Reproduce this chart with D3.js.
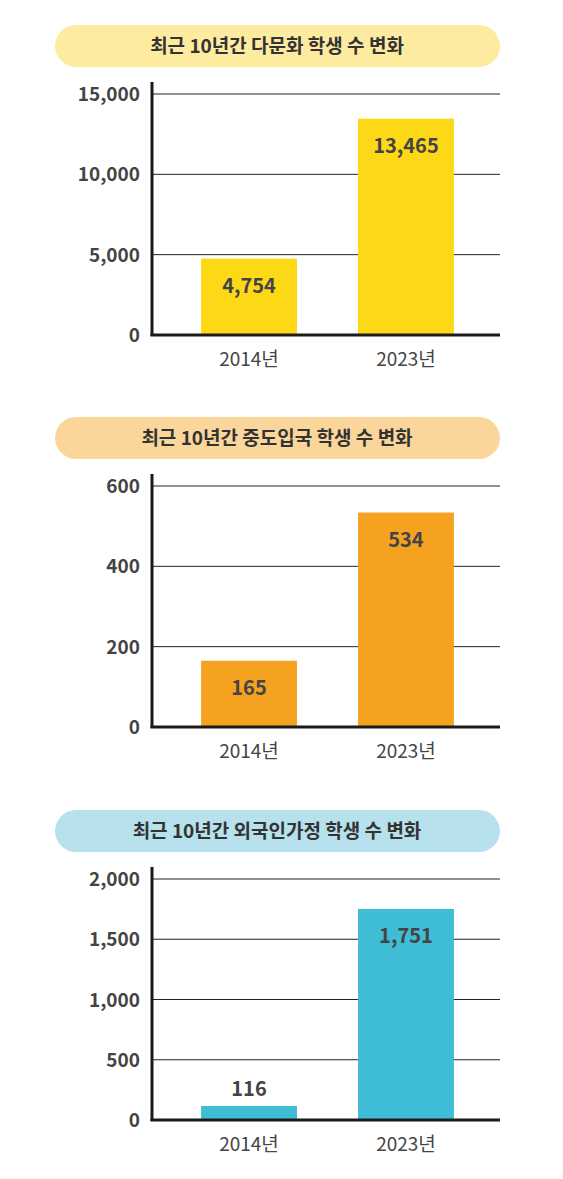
<!DOCTYPE html>
<html><head><meta charset="utf-8">
<script src="https://cdn.jsdelivr.net/npm/d3@7"></script>
<style>body{margin:0;background:#fff}</style>
</head><body>
<svg id="chart" width="563" height="1179"></svg>
<script>
const years = ["2014년", "2023년"];
const titles = ["최근 10년간 다문화 학생 수 변화", "최근 10년간 중도입국 학생 수 변화", "최근 10년간 외국인가정 학생 수 변화"];
const values1 = [4754, 13465];
const values2 = [165, 534];
const values3 = [116, 1751];
const ticks1 = [0, 5000, 10000, 15000];
const ticks2 = [0, 200, 400, 600];
const ticks3 = [0, 500, 1000, 1500, 2000];

const panels = [
  { title: titles[0], values: values1, ticks: ticks1, top: 0, pill: "#fdeba0", bar: "#fcd817" },
  { title: titles[1], values: values2, ticks: ticks2, top: 392, pill: "#fbd69b", bar: "#f4a220" },
  { title: titles[2], values: values3, ticks: ticks3, top: 785, pill: "#b6e1ed", bar: "#3fbcd6" }
];

const svg = d3.select("#chart");
const font = "'Noto Sans CJK KR', 'Noto Sans', sans-serif";

panels.forEach(p => {
  const g = svg.append("g").attr("transform", `translate(0,${p.top})`);
  g.append("rect").attr("x", 55).attr("y", 25).attr("width", 445).attr("height", 42)
    .attr("rx", 21).attr("fill", p.pill);
  g.append("text").attr("x", 277).attr("y", 53).attr("text-anchor", "middle")
    .attr("font-family", font).attr("font-weight", 700).attr("font-size", 19)
    .attr("fill", "#333").text(p.title);

  const max = p.ticks[p.ticks.length - 1];
  const y = d3.scaleLinear().domain([0, max]).range([335, 94]);
  const x = d3.scaleBand().domain(years).range([154, 501]).paddingInner(0.389).paddingOuter(0.3);

  g.selectAll(".grid").data(p.ticks.slice(1)).enter().append("line")
    .attr("x1", 152).attr("x2", 500).attr("y1", d => y(d)).attr("y2", d => y(d))
    .attr("stroke", "#222").attr("stroke-width", 1);

  g.selectAll(".tick").data(p.ticks).enter().append("text")
    .attr("x", 140).attr("y", d => y(d) + 7).attr("text-anchor", "end")
    .attr("font-family", font).attr("font-weight", 700).attr("font-size", 19)
    .attr("fill", "#444").text(d => d3.format(",")(d));

  g.selectAll(".bar").data(p.values).enter().append("rect")
    .attr("x", (d, i) => x(years[i])).attr("width", x.bandwidth())
    .attr("y", d => y(d)).attr("height", d => 335 - y(d)).attr("fill", p.bar);

  g.selectAll(".val").data(p.values).enter().append("text")
    .attr("x", (d, i) => x(years[i]) + x.bandwidth() / 2)
    .attr("y", d => (335 - y(d) < 60) ? y(d) - 10 : y(d) + 34)
    .attr("text-anchor", "middle")
    .attr("font-family", font).attr("font-weight", 700).attr("font-size", 20)
    .attr("fill", "#444").text(d => d3.format(",")(d));

  g.append("line").attr("x1", 152).attr("x2", 152).attr("y1", 82).attr("y2", 336)
    .attr("stroke", "#1a1a1a").attr("stroke-width", 3);
  g.append("line").attr("x1", 150.5).attr("x2", 500).attr("y1", 335).attr("y2", 335)
    .attr("stroke", "#1a1a1a").attr("stroke-width", 3);

  g.selectAll(".yr").data(years).enter().append("text")
    .attr("x", d => x(d) + x.bandwidth() / 2).attr("y", 366).attr("text-anchor", "middle")
    .attr("font-family", font).attr("font-size", 19).attr("fill", "#444").text(d => d);
});
</script>
</body></html>
